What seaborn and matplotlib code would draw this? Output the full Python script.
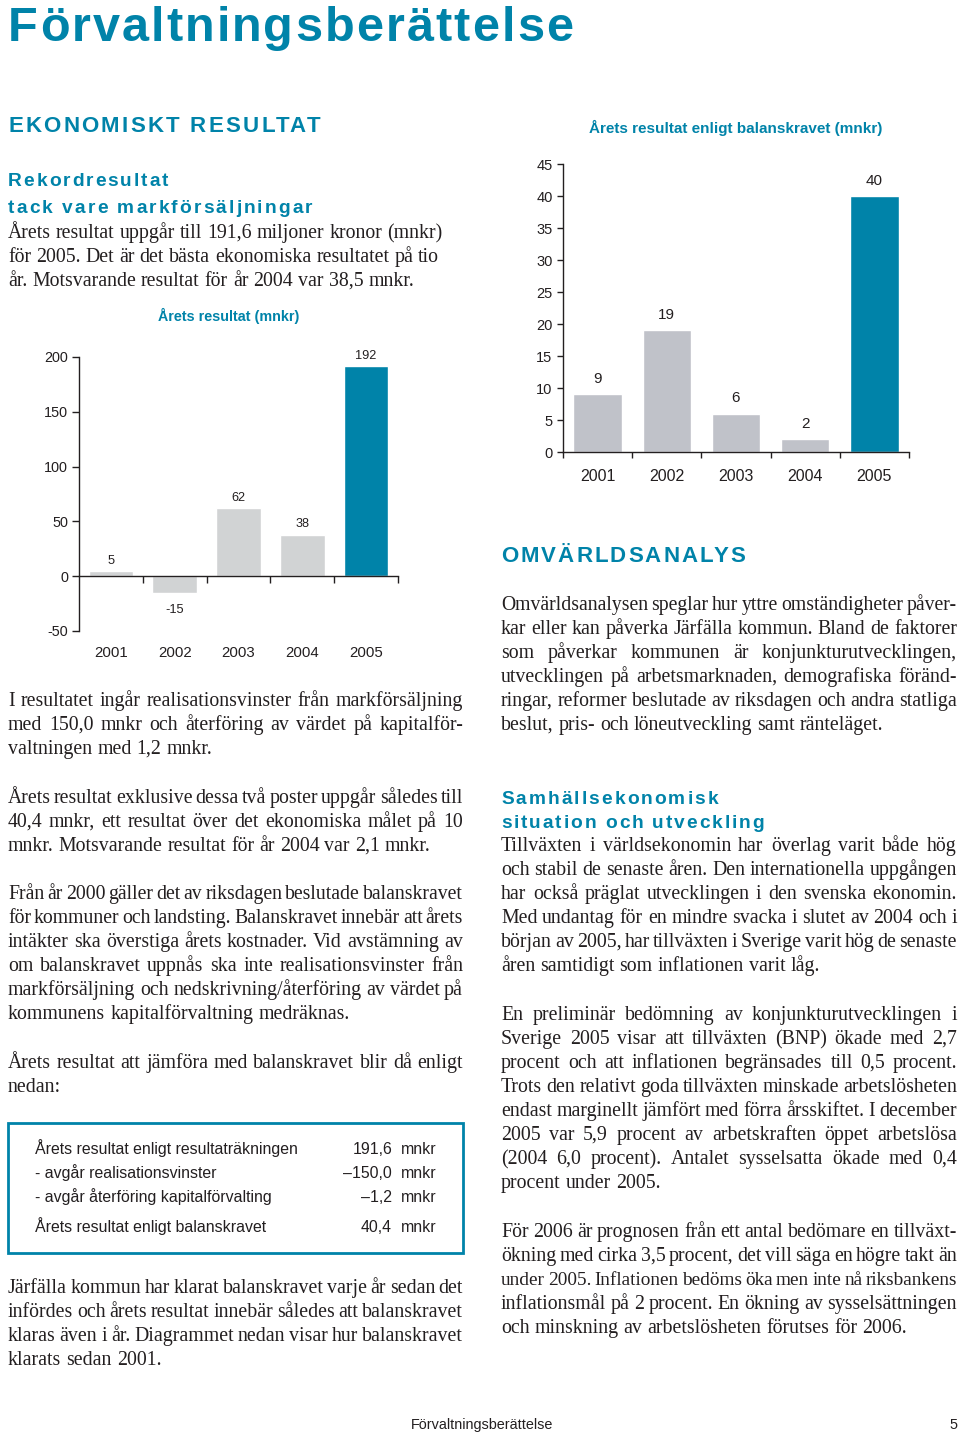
import matplotlib
matplotlib.use("Agg")
import matplotlib.pyplot as plt
from matplotlib.patches import Rectangle
import seaborn as sns

W, H = 960, 1434
TEAL = "#0083A9"
INK = "#231F20"

# --- chart data ---
years = ["2001", "2002", "2003", "2004", "2005"]
resultat = [5, -15, 62, 38, 192]          # Årets resultat (mnkr)
balanskrav = [9, 19, 6, 2, 40]            # Årets resultat enligt balanskravet (mnkr)
res_colors = ["#D1D3D4"] * 4 + [TEAL]
bal_colors = ["#C0C2C9"] * 4 + [TEAL]

# box with the reconciliation
box_labels = ["Årets resultat enligt resultaträkningen",
              "- avgår realisationsvinster",
              "- avgår återföring kapitalförvalting",
              "Årets resultat enligt balanskravet"]
box_values = ["191,6", "–150,0", "–1,2", "40,4"]

# --- page text ---
p_rekord = ["Årets resultat uppgår till 191,6 miljoner kronor (mnkr)",
            "för 2005. Det är det bästa ekonomiska resultatet på tio",
            "år. Motsvarande resultat för år 2004 var 38,5 mnkr."]
p_real = ["I resultatet ingår realisationsvinster från markförsäljning",
          "med 150,0 mnkr och återföring av värdet på kapitalför-",
          "valtningen med 1,2 mnkr."]
p_exkl = ["Årets resultat exklusive dessa två poster uppgår således till",
          "40,4 mnkr, ett resultat över det ekonomiska målet på 10",
          "mnkr. Motsvarande resultat för år 2004 var 2,1 mnkr."]
p_krav = ["Från år 2000 gäller det av riksdagen beslutade balanskravet",
          "för kommuner och landsting. Balanskravet innebär att årets",
          "intäkter ska överstiga årets kostnader. Vid avstämning av",
          "om balanskravet uppnås ska inte realisationsvinster från",
          "markförsäljning och nedskrivning/återföring av värdet på",
          "kommunens kapitalförvaltning medräknas."]
p_jmf = ["Årets resultat att jämföra med balanskravet blir då enligt",
         "nedan:"]
p_klarat = ["Järfälla kommun har klarat balanskravet varje år sedan det",
            "infördes och årets resultat innebär således att balanskravet",
            "klaras även i år. Diagrammet nedan visar hur balanskravet",
            "klarats sedan 2001."]
p_omv = ["Omvärldsanalysen speglar hur yttre omständigheter påver-",
         "kar eller kan påverka Järfälla kommun. Bland de faktorer",
         "som påverkar kommunen är konjunkturutvecklingen,",
         "utvecklingen på arbetsmarknaden, demografiska föränd-",
         "ringar, reformer beslutade av riksdagen och andra statliga",
         "beslut, pris- och löneutveckling samt ränteläget."]
p_tillv = ["Tillväxten i världsekonomin har överlag varit både hög",
           "och stabil de senaste åren. Den internationella uppgången",
           "har också präglat utvecklingen i den svenska ekonomin.",
           "Med undantag för en mindre svacka i slutet av 2004 och i",
           "början av 2005, har tillväxten i Sverige varit hög de senaste",
           "åren samtidigt som inflationen varit låg."]
p_prel = ["En preliminär bedömning av konjunkturutvecklingen i",
          "Sverige 2005 visar att tillväxten (BNP) ökade med 2,7",
          "procent och att inflationen begränsades till 0,5 procent.",
          "Trots den relativt goda tillväxten minskade arbetslösheten",
          "endast marginellt jämfört med förra årsskiftet. I december",
          "2005 var 5,9 procent av arbetskraften öppet arbetslösa",
          "(2004 6,0 procent). Antalet sysselsatta ökade med 0,4",
          "procent under 2005."]
p_2006 = ["För 2006 är prognosen från ett antal bedömare en tillväxt-",
          "ökning med cirka 3,5 procent, det vill säga en högre takt än",
          "under 2005. Inflationen bedöms öka men inte nå riksbankens",
          "inflationsmål på 2 procent. En ökning av sysselsättningen",
          "och minskning av arbetslösheten förutses för 2006."]

sns.set_style("ticks")
plt.rcParams["font.family"] = ["Liberation Sans", "DejaVu Sans"]
plt.rcParams["axes.unicode_minus"] = False

fig = plt.figure(figsize=(W / 100, H / 100), dpi=100)
renderer = fig.canvas.get_renderer()


def fx(x):
    return x / W


def fy(y):
    return 1 - y / H


def width_of(s, **kw):
    t = fig.text(0, 0, s, **kw)
    w = t.get_window_extent(renderer).width
    t.remove()
    return w


def spaced(x, y, s, right, **kw):
    # letter-spaced heading stretched to end at `right`
    n = len(s)
    pos = [width_of(s[:i + 1], **kw) - width_of(s[i], **kw) if s[i] != " " else None
           for i in range(n)]
    natural = width_of(s, **kw)
    track = (right - x - natural) / (n - 1)
    for i, ch in enumerate(s):
        if ch == " ":
            continue
        fig.text(fx(x + pos[i] + i * track), fy(y), ch, ha="left", va="baseline", **kw)


SERIF = ["Liberation Serif", "DejaVu Serif"]
BODY_SIZE = 14.3


def paragraph(x, y, lines, width, justify=True, step=24):
    for k, ln in enumerate(lines):
        yy = y + k * step
        last = k == len(lines) - 1
        words = ln.split(" ")
        size = BODY_SIZE
        ws = [width_of(w, family=SERIF, fontsize=size) for w in words]
        space = width_of("a a", family=SERIF, fontsize=size) - 2 * width_of("a", family=SERIF, fontsize=size)
        need = sum(ws) + 0.6 * space * (len(words) - 1)
        if need > width:
            # too long for the column: shrink this line a little
            size = size * width / need
            ws = [width_of(w, family=SERIF, fontsize=size) for w in words]
            space = space * width / need
        if not justify or last:
            gap = space
        else:
            gap = (width - sum(ws)) / (len(words) - 1)
        cx = x
        for w, ww in zip(words, ws):
            fig.text(fx(cx), fy(yy), w, ha="left", va="baseline",
                     family=SERIF, fontsize=size, color=INK)
            cx += ww + gap


HEAD = dict(color=TEAL, fontweight="bold")

# title and headings
spaced(8, 41, "Förvaltningsberättelse", 573, fontsize=35, **HEAD)
spaced(8, 132, "EKONOMISKT RESULTAT", 320, fontsize=16, **HEAD)
spaced(8, 186, "Rekordresultat", 168, fontsize=13.8, **HEAD)
spaced(8, 213, "tack vare markförsäljningar", 312, fontsize=13.8, **HEAD)
spaced(501, 562, "OMVÄRLDSANALYS", 745, fontsize=16, **HEAD)
spaced(501, 804, "Samhällsekonomisk", 718, fontsize=13.8, **HEAD)
spaced(501, 828, "situation och utveckling", 764, fontsize=13.8, **HEAD)

# body text
paragraph(8, 238, p_rekord, 455, justify=False)
paragraph(8, 706, p_real, 455)
paragraph(8, 803, p_exkl, 455)
paragraph(8, 899, p_krav, 455)
paragraph(8, 1068, p_jmf, 455)
paragraph(8, 1293, p_klarat, 455)
paragraph(501, 610, p_omv, 456)
paragraph(501, 851, p_tillv, 456)
paragraph(501, 1020, p_prel, 456)
paragraph(501, 1237, p_2006, 456)

# reconciliation box
fig.patches.append(Rectangle((fx(8), fy(1253)), 455 / W, 130 / H, transform=fig.transFigure,
                             fill=False, edgecolor=TEAL, lw=2))
for lab, val, yy in zip(box_labels, box_values, [1154, 1178, 1202, 1232]):
    fig.text(fx(35), fy(yy), lab, ha="left", va="baseline", fontsize=11.4, color=INK)
    fig.text(fx(392), fy(yy), val, ha="right", va="baseline", fontsize=11.4, color=INK)
    fig.text(fx(401), fy(yy), "mnkr", ha="left", va="baseline", fontsize=11.4, color=INK)

# footer
fig.text(fx(482), fy(1429), "Förvaltningsberättelse", ha="center", va="baseline", fontsize=10.4, color=INK)
fig.text(fx(957), fy(1429), "5", ha="right", va="baseline", fontsize=10.4, color=INK)


def style_axes(ax, tick_size, year_size, label_pad, tick_len):
    sns.despine(ax=ax)
    for s in ["left", "bottom"]:
        ax.spines[s].set_color(INK)
        ax.spines[s].set_linewidth(1.0)
    ax.set_xlim(-0.5, 4.5)
    ax.set_xticks([0.5, 1.5, 2.5, 3.5, 4.5], minor=True)
    ax.tick_params(axis="x", which="major", length=0, pad=label_pad, labelsize=year_size, labelcolor=INK)
    ax.tick_params(axis="x", which="minor", length=tick_len, width=1.0, color=INK, direction="out")
    ax.tick_params(axis="y", length=tick_len, width=1.0, color=INK, pad=3, labelsize=tick_size,
                   labelcolor=INK, direction="out")
    ax.set_xlabel("")
    ax.set_ylabel("")
    ax.set_facecolor("none")


# chart 1: Årets resultat
ax1 = fig.add_axes([fx(79), fy(631), (398 - 79) / W, (631 - 357) / H])
sns.barplot(x=years, y=resultat, hue=years, palette=res_colors, legend=False,
            width=0.7, saturation=1, ax=ax1)
ax1.set_ylim(-50, 200)
ax1.set_yticks(range(-50, 201, 50))
ax1.spines["bottom"].set_position(("data", 0))
style_axes(ax1, 10.4, 10.8, 50, 5)
for c, v in zip(ax1.containers, resultat):
    ax1.bar_label(c, padding=8 if v < 0 else 3, fontsize=9.2, color=INK)
fig.text(fx(229), fy(321), "Årets resultat (mnkr)", ha="center", va="baseline",
         fontsize=10.4, **HEAD)

# chart 2: Årets resultat enligt balanskravet
ax2 = fig.add_axes([fx(563), fy(452), (909 - 563) / W, (452 - 164) / H])
sns.barplot(x=years, y=balanskrav, hue=years, palette=bal_colors, legend=False,
            width=0.7, saturation=1, ax=ax2)
ax2.set_ylim(0, 45)
ax2.set_yticks(range(0, 46, 5))
style_axes(ax2, 10.5, 11.5, 12, 4.5)
ax2.set_xticks([-0.5, 0.5, 1.5, 2.5, 3.5, 4.5], minor=True)
for c in ax2.containers:
    ax2.bar_label(c, padding=6, fontsize=11, color=INK)
fig.text(fx(736), fy(133), "Årets resultat enligt balanskravet (mnkr)", ha="center", va="baseline",
         fontsize=11, **HEAD)

fig.savefig("out.png", dpi=100)
